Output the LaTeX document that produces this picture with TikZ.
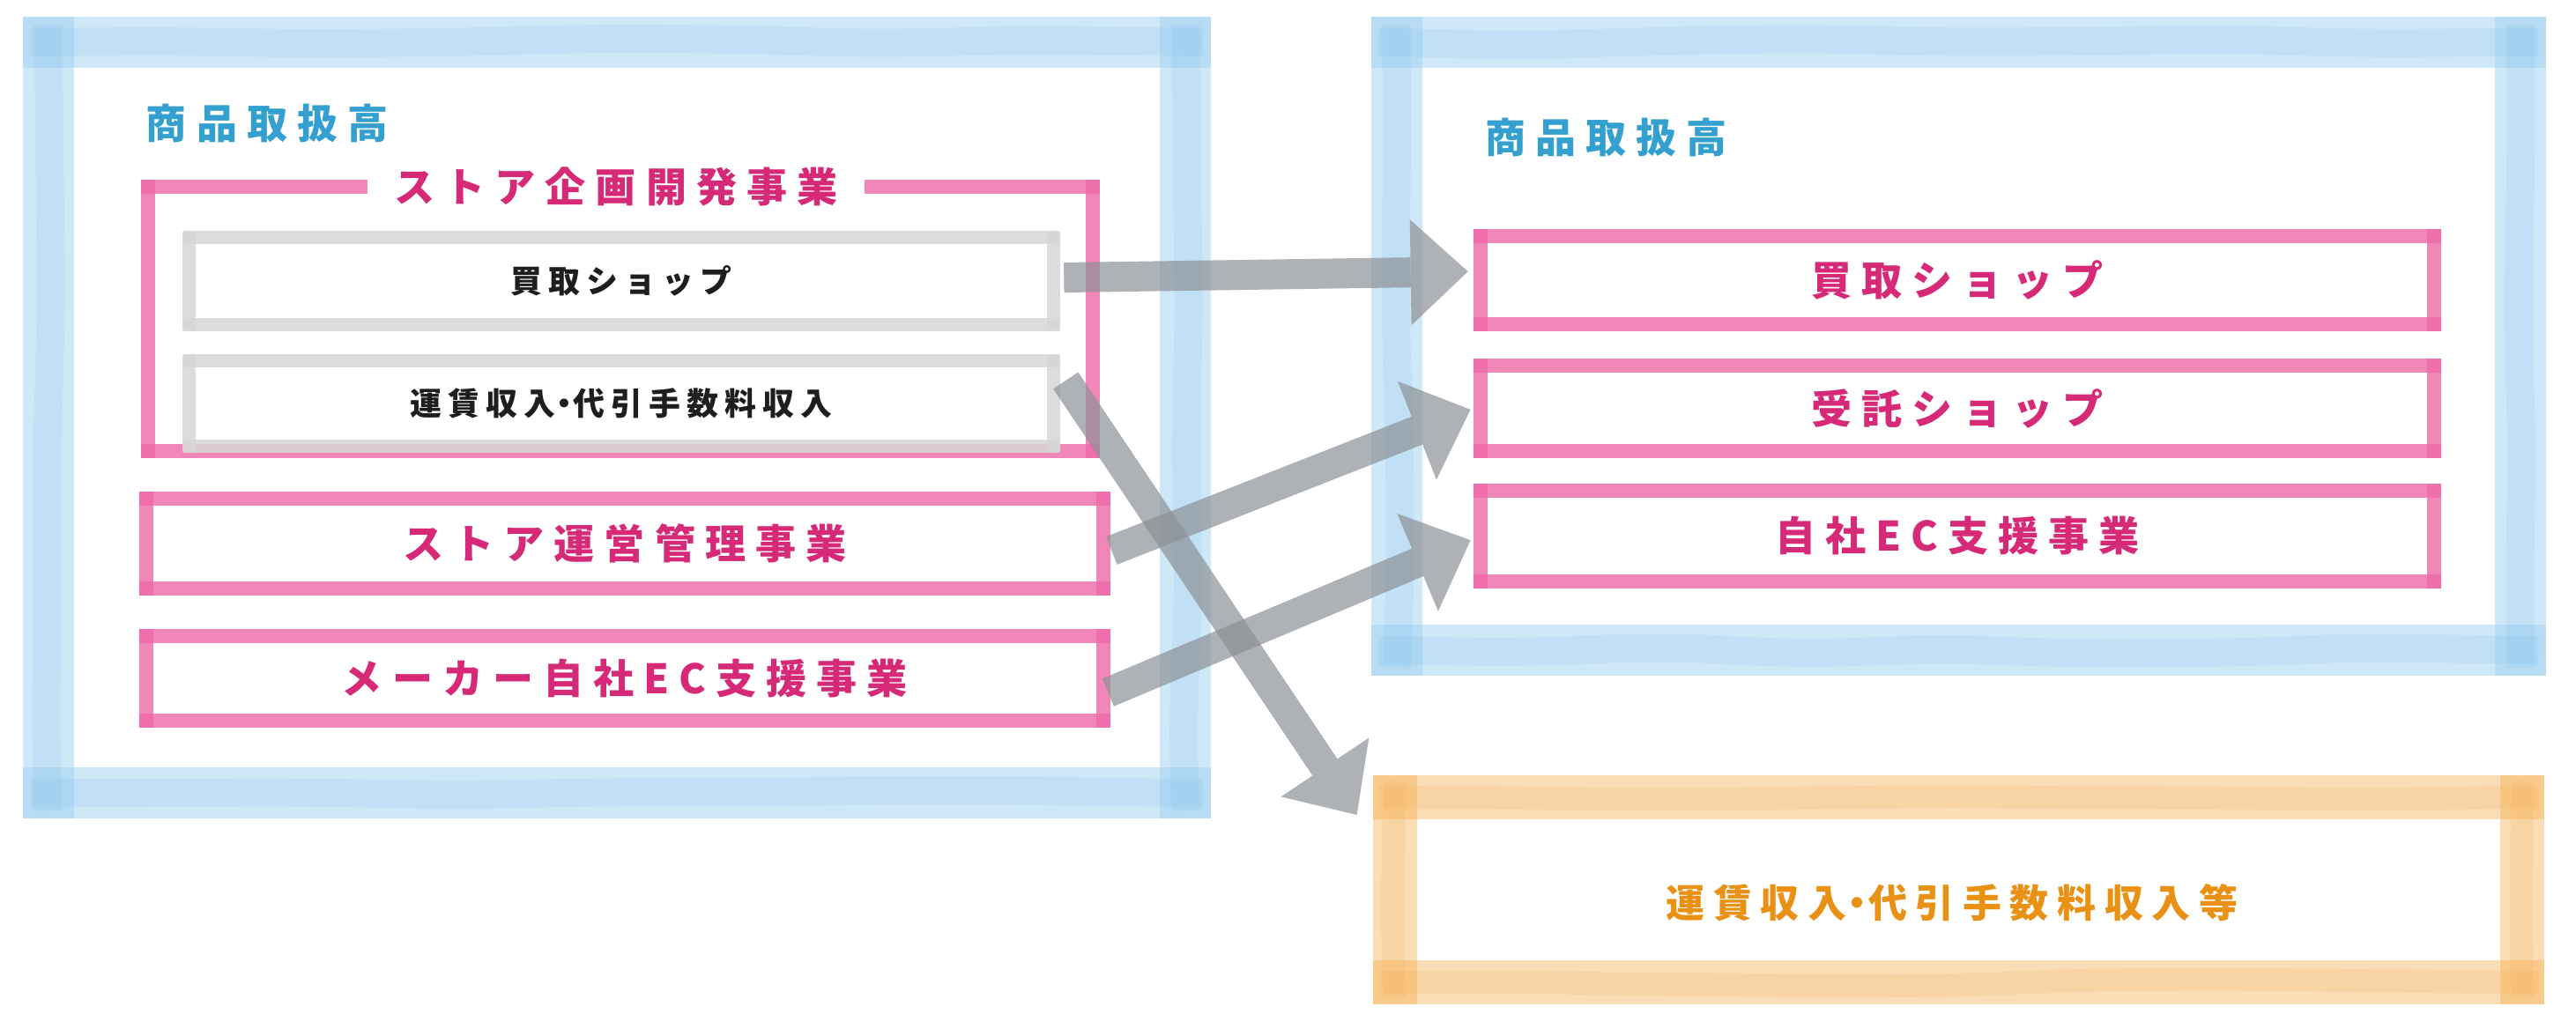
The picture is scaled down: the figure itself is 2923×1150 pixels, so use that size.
\documentclass[tikz,border=0pt]{standalone}
\usepackage{fontspec}
\usetikzlibrary{arrows.meta,calc,decorations.pathmorphing}
\newfontfamily\jpwide{Noto Sans CJK JP}[LetterSpace=24]
\newfontfamily\jpnarrow{Noto Sans CJK JP}[LetterSpace=20]
\newfontfamily\jporg{Noto Sans CJK JP}[LetterSpace=22]
\newcommand\fmag{\jpwide\bfseries\fontsize{13.1pt}{15pt}\selectfont}
\newcommand\fblk{\jpnarrow\bfseries\fontsize{10.2pt}{12pt}\selectfont}
\newcommand\forg{\jporg\bfseries\fontsize{12.5pt}{14pt}\selectfont}
\newcommand\ndot{\kern-0.22em・\kern-0.22em}
\definecolor{wcblue}{RGB}{160,210,242}
\definecolor{wcbluedk}{RGB}{110,180,232}
\definecolor{txtblue}{RGB}{52,160,208}
\definecolor{pinkline}{RGB}{238,105,168}
\definecolor{magtxt}{RGB}{214,42,120}
\definecolor{grayline}{RGB}{214,214,214}
\definecolor{wcorange}{RGB}{246,185,100}
\definecolor{wcorangedk}{RGB}{242,155,60}
\definecolor{orgtxt}{RGB}{232,145,20}
\definecolor{blktxt}{RGB}{30,30,30}
\definecolor{arrgray}{RGB}{140,145,150}
\newcommand\wcframe[4]{%
  \draw[#2] ($(#1.north west)+(-#3,0)$) -- ($(#1.north east)+(#3,0)$);
  \draw[#2] ($(#1.south west)+(-#3,0)$) -- ($(#1.south east)+(#3,0)$);
  \draw[#2] ($(#1.north west)+(0,-#4)$) -- ($(#1.south west)+(0,#4)$);
  \draw[#2] ($(#1.north east)+(0,-#4)$) -- ($(#1.south east)+(0,#4)$);
}
\begin{document}
\begin{tikzpicture}[x=0.01cm,y=-0.01cm,
  bx/.style={draw=none, inner sep=0pt, outer sep=0pt},
  blueband/.style={draw=wcblue, line width=0.58cm, opacity=0.5},
  bluetex/.style={draw=wcbluedk, line width=0.32cm, opacity=0.14, decorate,
    decoration={random steps,segment length=1.6cm,amplitude=0.04cm}, rounded corners=0.5cm},
  orgband/.style={draw=wcorange, line width=0.5cm, opacity=0.48},
  orgtex/.style={draw=wcorangedk, line width=0.26cm, opacity=0.14, decorate,
    decoration={random steps,segment length=1.6cm,amplitude=0.04cm}, rounded corners=0.5cm},
  pinkln/.style={draw=pinkline, line width=0.16cm, opacity=0.8},
  grayln/.style={draw=grayline, line width=0.15cm, opacity=0.85},
  arr/.style={draw=arrgray, line width=0.34cm, opacity=0.7,
    -{Triangle[length=0.65cm,width=1.2cm,line width=0pt]}},
]
\pgfmathsetseed{7}
\fill[white] (0,0) rectangle (2923,1150);
\useasboundingbox (0,0) rectangle (2923,1150);

% outer frames
\node[bx, minimum width=12.9cm, minimum height=8.52cm] (lf) at (700,474) {};
\node[bx, minimum width=12.75cm, minimum height=6.9cm] (rf) at (2222.5,393) {};
\node[bx, minimum width=12.79cm, minimum height=2.1cm] (of) at (2222.5,1010) {};
\wcframe{lf}{blueband}{29}{29}
\wcframe{lf}{bluetex}{20}{20}
\wcframe{rf}{blueband}{29}{29}
\wcframe{rf}{bluetex}{20}{20}
\wcframe{of}{orgband}{25}{25}
\wcframe{of}{orgtex}{18}{18}

% titles
\node[bx, anchor=west, text=txtblue, font=\fmag] (lt) at (166,140) {商品取扱高};
\node[bx, anchor=west, text=txtblue, font=\fmag] (rt) at (1685,156) {商品取扱高};

% left group box
\node[bx, minimum width=10.72cm, minimum height=3cm] (grp) at (704,362) {};
\node[bx, text=magtxt, font=\fmag, inner xsep=0.3cm] (gt) at (699,212) {ストア企画開発事業};
\draw[pinkln] ($(grp.north west)+(-8,0)$) -- (grp.north west -| gt.west);
\draw[pinkln] (grp.north east -| gt.east) -- ($(grp.north east)+(8,0)$);
\draw[pinkln] ($(grp.south west)+(-8,0)$) -- ($(grp.south east)+(8,0)$);
\draw[pinkln] ($(grp.north west)+(0,-8)$) -- ($(grp.south west)+(0,8)$);
\draw[pinkln] ($(grp.north east)+(0,-8)$) -- ($(grp.south east)+(0,8)$);

% gray boxes
\node[bx, minimum width=9.8cm, minimum height=0.98cm, text=blktxt, font=\fblk] (g1) at (705,319) {買取ショップ};
\node[bx, minimum width=9.8cm, minimum height=0.96cm, text=blktxt, font=\fblk] (g2) at (705,458) {運賃収入\ndot 代引手数料収入};
\wcframe{g1}{grayln}{7}{7}
\wcframe{g2}{grayln}{7}{7}

% left magenta boxes
\node[bx, minimum width=10.86cm, minimum height=1.02cm, text=magtxt, font=\fmag] (m1) at (709,617) {ストア運営管理事業};
\node[bx, minimum width=10.86cm, minimum height=0.96cm, text=magtxt, font=\fmag] (m2) at (709,770) {メーカー自社EC支援事業};
\wcframe{m1}{pinkln}{8}{8}
\wcframe{m2}{pinkln}{8}{8}

% right magenta boxes
\node[bx, minimum width=10.82cm, minimum height=1.0cm, text=magtxt, font=\fmag] (r1) at (2221,318) {買取ショップ};
\node[bx, minimum width=10.82cm, minimum height=0.97cm, text=magtxt, font=\fmag] (r2) at (2221,463.5) {受託ショップ};
\node[bx, minimum width=10.82cm, minimum height=1.03cm, text=magtxt, font=\fmag] (r3) at (2221,608.5) {自社EC支援事業};
\wcframe{r1}{pinkln}{8}{8}
\wcframe{r2}{pinkln}{8}{8}
\wcframe{r3}{pinkln}{8}{8}

% orange text
\node[bx, text=orgtxt, font=\forg] (ot) at (2215,1025) {運賃収入\ndot 代引手数料収入等};

% arrows
\draw[arr, shorten >=0.14cm] ($(g1.east)+(12,-4)$) -- ($(r1.west)+(0,-10)$);
\draw[arr] ($(g2.north east)+(14,22)$) -- ($(of.north west)+(-43,20)$);
\draw[arr, shorten >=0.12cm] ($(m1.east)+(9,8)$) -- ($(r2.west)+(0,-3)$);
\draw[arr, shorten >=0.12cm] ($(m2.east)+(5,16)$) -- (r3.west);
\end{tikzpicture}
\end{document}
